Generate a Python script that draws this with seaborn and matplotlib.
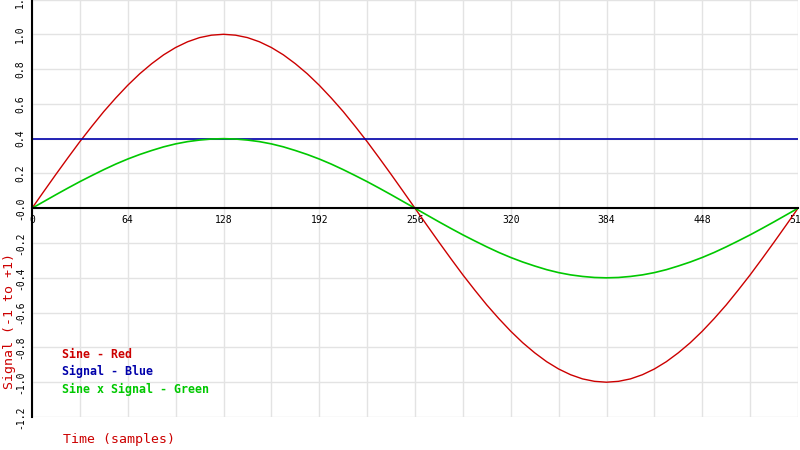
import pandas as pd
import seaborn as sns
import matplotlib.pyplot as plt
from matplotlib.ticker import FixedLocator, FixedFormatter

# values every 8 samples
samples = list(range(0, 513, 8))
sine = [0.000, 0.098, 0.195, 0.290, 0.383, 0.471, 0.556, 0.634, 0.707, 0.773, 0.831, 0.882, 0.924,
        0.957, 0.981, 0.995, 1.000, 0.995, 0.981, 0.957, 0.924, 0.882, 0.831, 0.773, 0.707, 0.634,
        0.556, 0.471, 0.383, 0.290, 0.195, 0.098, 0.000,
        -0.098, -0.195, -0.290, -0.383, -0.471, -0.556, -0.634, -0.707, -0.773, -0.831, -0.882, -0.924,
        -0.957, -0.981, -0.995, -1.000, -0.995, -0.981, -0.957, -0.924, -0.882, -0.831, -0.773, -0.707,
        -0.634, -0.556, -0.471, -0.383, -0.290, -0.195, -0.098, 0.000]
signal = [0.40] * 65
product = [0.000, 0.039, 0.078, 0.116, 0.153, 0.188, 0.222, 0.254, 0.283, 0.309, 0.332, 0.353, 0.370,
           0.383, 0.392, 0.398, 0.400, 0.398, 0.392, 0.383, 0.370, 0.353, 0.332, 0.309, 0.283, 0.254,
           0.222, 0.188, 0.153, 0.116, 0.078, 0.039, 0.000,
           -0.039, -0.078, -0.116, -0.153, -0.188, -0.222, -0.254, -0.283, -0.309, -0.332, -0.353, -0.370,
           -0.383, -0.392, -0.398, -0.400, -0.398, -0.392, -0.383, -0.370, -0.353, -0.332, -0.309, -0.283,
           -0.254, -0.222, -0.188, -0.153, -0.116, -0.078, -0.039, 0.000]

x_ticks = [0, 64, 128, 192, 256, 320, 384, 448, 512]
x_tick_labels = ["0", "64", "128", "192", "256", "320", "384", "448", "512"]
y_ticks = [-1.2, -1.0, -0.8, -0.6, -0.4, -0.2, 0.0, 0.2, 0.4, 0.6, 0.8, 1.0, 1.2]
y_tick_labels = ["-1.2", "-1.0", "-0.8", "-0.6", "-0.4", "-0.2", "-0.0", "0.2", "0.4", "0.6", "0.8", "1.0", "1.2"]

df = pd.DataFrame({"t": samples, "sine": sine, "signal": signal, "product": product})

sns.set_style("white")
plt.rcParams['font.family'] = ['DejaVu Sans Mono']

fig = plt.figure(figsize=(8, 4.5), dpi=100)
ax = fig.add_axes([32 / 800, 33 / 450, 766 / 800, 417.5 / 450])

sns.lineplot(data=df, x="t", y="sine", color="#cc0000", lw=1.0, ax=ax)
sns.lineplot(data=df, x="t", y="signal", color="#0000aa", lw=1.2, ax=ax)
sns.lineplot(data=df, x="t", y="product", color="#00c800", lw=1.2, ax=ax)

ax.set_xlim(0, 512)
ax.set_ylim(-1.2, 1.2)

# grid: every 32 samples across, every 0.2 up
ax.xaxis.set_major_locator(FixedLocator(x_ticks))
ax.xaxis.set_major_formatter(FixedFormatter(x_tick_labels))
ax.xaxis.set_minor_locator(FixedLocator(list(range(32, 512, 64))))
ax.yaxis.set_major_locator(FixedLocator(y_ticks))
ax.yaxis.set_major_formatter(FixedFormatter(y_tick_labels))
ax.grid(True, which="both", color="#e3e3e3", lw=1.0)
ax.set_axisbelow(True)

# axes through the origin
ax.spines["bottom"].set_position(("data", 0))
ax.spines["left"].set_position(("data", 0))
ax.spines["top"].set_visible(False)
ax.spines["right"].set_visible(False)
for s in ["bottom", "left"]:
    ax.spines[s].set_color("black")
    ax.spines[s].set_linewidth(1.5)

ax.tick_params(axis="x", which="major", direction="out", length=4, width=1.2, color="black",
               labelcolor="black", labelsize=7, pad=1)
ax.tick_params(axis="x", which="minor", length=0)
ax.tick_params(axis="y", which="major", direction="out", length=4, width=1.2, color="black",
               labelcolor="black", labelsize=7, pad=1)
for lab in ax.get_yticklabels():
    lab.set_rotation(90)
    lab.set_va("center")

ax.set_xlabel("")
ax.set_ylabel("")

fig.text(10 / 800, 1 - 321 / 450, "Signal (-1 to +1)", color="#cc0000", fontsize=9.5,
         rotation=90, ha="center", va="center")
fig.text(63 / 800, 1 - 440 / 450, "Time (samples)", color="#cc0000", fontsize=9.5,
         ha="left", va="center")

legend_items = [("Sine - Red", "#cc0000"), ("Signal - Blue", "#0000aa"), ("Sine x Signal - Green", "#00c800")]
for i, (txt, col) in enumerate(legend_items):
    fig.text(62 / 800, 1 - (354 + 17.5 * i) / 450, txt, color=col, fontsize=8.4,
             fontweight="bold", ha="left", va="center")

fig.savefig("out.png", dpi=100)
